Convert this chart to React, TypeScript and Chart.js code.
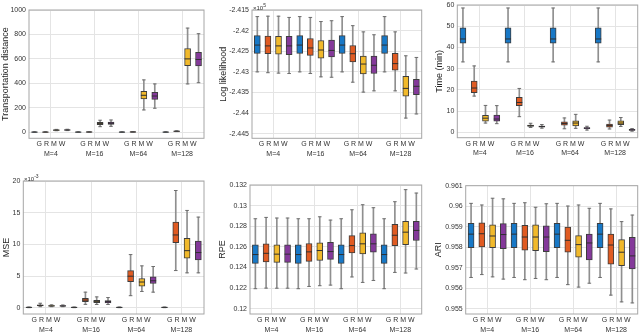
import React, { useEffect, useRef } from 'react';
import { Chart, registerables } from 'chart.js';

Chart.register(...registerables);

const FONT = "'Liberation Sans', Arial, Helvetica, sans-serif";

// ---- shared categories ----
const groupLabels = ['M=4', 'M=16', 'M=64', 'M=128'];
const methodLetters = 'G R M W';
const groupCenters = [2.5, 6.5, 10.5, 14.5];
const methodColors = ['#1878c6', '#e05b22', '#f1b92b', '#84399a'];

// Each row: [lower whisker, q1, median, q3, upper whisker] for M=4, M=16, M=64, M=128

// Transportation distance
const tdG = [[0, 0.5, 1, 1.5, 2], [0, 0.5, 1, 1.5, 2], [0, 0.5, 1, 1.5, 2], [0, 0.5, 1, 1.5, 2]];
const tdR = [[0, 0.5, 1, 1.5, 3], [0, 1, 1.5, 2, 3], [0, 1, 2, 3, 4], [5, 7, 8, 9, 11]];
const tdM = [[12, 15, 17, 19, 23], [45, 62, 72, 80, 98], [182, 272, 302, 335, 428], [395, 545, 600, 685, 852]];
const tdW = [[13, 16, 18, 20, 24], [48, 63, 73, 82, 100], [196, 269, 296, 327, 395], [405, 542, 595, 653, 806]];
const tdTicks = [0, 200, 400, 600, 800, 1000];
const tdTickLabels = ['0', '200', '400', '600', '800', '1000'];

// Log likelihood (x 10^5)
const llG = [[-2.43, -2.4255, -2.4235, -2.4212, -2.4166], [-2.43, -2.4255, -2.4235, -2.4212, -2.4166], [-2.43, -2.4255, -2.4235, -2.4212, -2.4166], [-2.43, -2.4255, -2.4235, -2.4212, -2.4166]];
const llR = [[-2.4302, -2.4256, -2.4237, -2.4213, -2.4165], [-2.4304, -2.426, -2.4242, -2.4219, -2.4168], [-2.4325, -2.4276, -2.4256, -2.4236, -2.4188], [-2.4346, -2.4296, -2.428, -2.4255, -2.4203]];
const llM = [[-2.4303, -2.4257, -2.4237, -2.4214, -2.4165], [-2.4312, -2.4267, -2.4247, -2.4224, -2.4178], [-2.4349, -2.4305, -2.4281, -2.4262, -2.4203], [-2.4412, -2.4359, -2.434, -2.4311, -2.4261]];
const llW = [[-2.4304, -2.4258, -2.4237, -2.4214, -2.4168], [-2.4313, -2.4264, -2.4248, -2.4223, -2.4176], [-2.4346, -2.4304, -2.4284, -2.4262, -2.421], [-2.4402, -2.4355, -2.4335, -2.4318, -2.4265]];
const llTicks = [-2.445, -2.44, -2.435, -2.43, -2.425, -2.42, -2.415];
const llTickLabels = ['-2.445', '-2.44', '-2.435', '-2.43', '-2.425', '-2.42', '-2.415'];

// Time (min)
const tmG = [[33.2, 42, 44, 49.2, 58.6], [33.2, 42, 44, 49.2, 58.6], [33.2, 42, 44, 49.2, 58.6], [33.2, 42, 44, 49.2, 58.6]];
const tmR = [[17.1, 18.7, 20.9, 24.2, 31.3], [7.4, 12.6, 14.1, 16.5, 20.7], [1.7, 3.4, 4.2, 5.0, 6.8], [1.6, 2.5, 3.2, 3.9, 5.8]];
const tmM = [[4.4, 5.3, 6.7, 8.0, 12.7], [2.3, 2.8, 3.2, 3.5, 4.3], [1.9, 3.1, 4.4, 5.5, 8.5], [2.8, 3.6, 4.4, 5.5, 7.0]];
const tmW = [[4.1, 5.3, 6.3, 8.2, 12.6], [2.0, 2.5, 2.8, 3.0, 3.7], [1.1, 1.7, 2.0, 2.3, 2.9], [0.6, 0.9, 1.2, 1.5, 1.8]];
const tmTicks = [0, 10, 20, 30, 40, 50, 60];
const tmTickLabels = ['0', '10', '20', '30', '40', '50', '60'];

// MSE (x 10^-3)
const mseG = [[0, 0.03, 0.05, 0.07, 0.1], [0, 0.03, 0.05, 0.07, 0.1], [0, 0.03, 0.05, 0.07, 0.1], [0, 0.03, 0.05, 0.07, 0.1]];
const mseR = [[0.15, 0.28, 0.35, 0.45, 0.7], [0.52, 0.94, 1.2, 1.46, 2.45], [1.89, 4.09, 4.97, 5.86, 8.38], [5.86, 10.27, 11.48, 13.5, 18.5]];
const mseM = [[0.15, 0.22, 0.28, 0.33, 0.45], [0.5, 0.8, 1.0, 1.15, 1.7], [2.56, 3.4, 4.05, 4.6, 6.6], [5.5, 7.8, 9.0, 10.94, 15.35]];
const mseW = [[0.15, 0.22, 0.27, 0.32, 0.42], [0.5, 0.75, 0.95, 1.1, 1.6], [2.45, 3.82, 4.25, 4.87, 6.5], [5.5, 7.55, 8.7, 10.5, 14.3]];
const mseTicks = [0, 5, 10, 15, 20];
const mseTickLabels = ['0', '5', '10', '15', '20'];

// RPE
const rpeG = [[0.12195, 0.12441, 0.12526, 0.1262, 0.12873], [0.12195, 0.12441, 0.12526, 0.1262, 0.12873], [0.12195, 0.12441, 0.12526, 0.1262, 0.12873], [0.12195, 0.12441, 0.12526, 0.1262, 0.12873]];
const rpeR = [[0.12201, 0.12455, 0.12538, 0.1263, 0.12886], [0.12217, 0.1246, 0.12552, 0.12633, 0.12873], [0.12309, 0.12542, 0.12613, 0.1271, 0.1296], [0.12353, 0.12613, 0.12713, 0.12818, 0.13038]];
const rpeM = [[0.122, 0.1245, 0.1253, 0.1262, 0.1288], [0.12224, 0.1247, 0.12565, 0.12639, 0.12892], [0.12256, 0.12532, 0.1263, 0.12737, 0.13009], [0.12347, 0.12623, 0.12743, 0.12847, 0.13155]];
const rpeW = [[0.122, 0.1245, 0.1253, 0.1262, 0.1288], [0.1223, 0.1248, 0.12555, 0.12645, 0.1286], [0.12275, 0.12548, 0.1263, 0.12727, 0.1298], [0.12386, 0.12662, 0.1276, 0.12847, 0.13122]];
const rpeTicks = [0.12, 0.122, 0.124, 0.126, 0.128, 0.13, 0.132];
const rpeTickLabels = ['0.12', '0.122', '0.124', '0.126', '0.128', '0.13', '0.132'];

// ARI
const ariG = [[0.95653, 0.95798, 0.95864, 0.95917, 0.96014], [0.95653, 0.95798, 0.95864, 0.95917, 0.96014], [0.95653, 0.95798, 0.95864, 0.95917, 0.96014], [0.95653, 0.95798, 0.95864, 0.95917, 0.96014]];
const ariR = [[0.95667, 0.95802, 0.95866, 0.95919, 0.96006], [0.95642, 0.95786, 0.9585, 0.95907, 0.96017], [0.95618, 0.95776, 0.95834, 0.95898, 0.96001], [0.95567, 0.95718, 0.95811, 0.95864, 0.95987]];
const ariM = [[0.95656, 0.95798, 0.95855, 0.95909, 0.96039], [0.95648, 0.95784, 0.9585, 0.95909, 0.95995], [0.95606, 0.95752, 0.95813, 0.95857, 0.96006], [0.95534, 0.95711, 0.95776, 0.95837, 0.95925]];
const ariW = [[0.95645, 0.95793, 0.95862, 0.95915, 0.96036], [0.95642, 0.95779, 0.9585, 0.95905, 0.96012], [0.95625, 0.95739, 0.95821, 0.95864, 0.9599], [0.95529, 0.95695, 0.95758, 0.95849, 0.95957]];
const ariTicks = [0.955, 0.956, 0.957, 0.958, 0.959, 0.96, 0.961];
const ariTickLabels = ['0.955', '0.956', '0.957', '0.958', '0.959', '0.96', '0.961'];

type PanelCfg = {
  L: number; T: number; R: number; B: number; titleX: number;
  title: string; yMin: number; yMax: number;
  ticks: number[]; tickLabels: string[];
  series: number[][][];
};

const panels: PanelCfg[] = [
  { L: 29, T: 10, R: 204, B: 138.3, titleX: 5, title: 'Transportation distance', yMin: -50, yMax: 1000, ticks: tdTicks, tickLabels: tdTickLabels, series: [tdG, tdR, tdM, tdW] },
  { L: 252, T: 10, R: 421.7, B: 138.3, titleX: 223, title: 'Log likelihood', yMin: -2.4461, yMax: -2.415, ticks: llTicks, tickLabels: llTickLabels, series: [llG, llR, llM, llW] },
  { L: 457.3, T: 5, R: 637.7, B: 137.7, titleX: 439, title: 'Time (min)', yMin: -2.5, yMax: 60, ticks: tmTicks, tickLabels: tmTickLabels, series: [tmG, tmR, tmM, tmW] },
  { L: 23.3, T: 181, R: 204, B: 314, titleX: 6, title: 'MSE', yMin: -1, yMax: 20, ticks: mseTicks, tickLabels: mseTickLabels, series: [mseG, mseR, mseM, mseW] },
  { L: 250, T: 185, R: 421.7, B: 314, titleX: 222, title: 'RPE', yMin: 0.1195, yMax: 0.132, ticks: rpeTicks, tickLabels: rpeTickLabels, series: [rpeG, rpeR, rpeM, rpeW] },
  { L: 465.7, T: 185.7, R: 637.7, B: 314, titleX: 438, title: 'ARI', yMin: 0.95475, yMax: 0.961, ticks: ariTicks, tickLabels: ariTickLabels, series: [ariG, ariR, ariM, ariW] },
];

const framePlugin = {
  id: 'frame',
  afterDraw(chart: any) {
    const { ctx, chartArea } = chart;
    ctx.save();
    ctx.strokeStyle = '#a6a6a6';
    ctx.lineWidth = 1;
    ctx.strokeRect(chartArea.left, chartArea.top, chartArea.right - chartArea.left, chartArea.bottom - chartArea.top);
    ctx.restore();
  },
};

function Panel({ cfg }: { cfg: PanelCfg }) {
  const ref = useRef<HTMLCanvasElement>(null);
  const cl = Math.floor(cfg.titleX - 5);
  const ct = Math.floor(cfg.T - 10);
  const yW = cfg.L - cl;
  const padTop = cfg.T - ct;
  const cw = Math.ceil(cfg.R - cl + 3);
  const padRight = cw - (cfg.R - cl);
  const ch = Math.ceil(cfg.B - ct + 28);
  const xH = ch - (cfg.B - ct);

  useEffect(() => {
    if (!ref.current) return;
    const whisk: any[] = [];
    const box: any[] = [];
    const boxColors: string[] = [];
    const med: any[] = [];
    const caps: any[] = [];
    cfg.series.forEach((s, m) => {
      s.forEach((v, g) => {
        const x = g * 4 + m + 1;
        whisk.push({ x, y: [v[0], v[4]] });
        box.push({ x, y: [v[1], v[3]] });
        boxColors.push(methodColors[m]);
        med.push({ x, y: v[2] });
        caps.push({ x, y: v[0] }, { x, y: v[4] });
      });
    });

    const chart = new Chart(ref.current, {
      type: 'bar',
      data: {
        datasets: [
          { type: 'line', data: med, showLine: false, pointStyle: 'line', pointRadius: 3, pointBorderWidth: 1, borderColor: '#2f2f2f', pointBorderColor: '#2f2f2f' } as any,
          { type: 'line', data: caps, showLine: false, pointStyle: 'line', pointRadius: 1.8, pointBorderWidth: 1, borderColor: '#6e6e6e', pointBorderColor: '#6e6e6e' } as any,
          { type: 'bar', data: box, backgroundColor: boxColors, borderColor: '#3d3d3d', borderWidth: 1, borderSkipped: false, barThickness: 6, grouped: false } as any,
          { type: 'bar', data: whisk, backgroundColor: '#8f8f8f', borderWidth: 0, barThickness: 1, grouped: false } as any,
        ],
      },
      options: {
        animation: false,
        responsive: false,
        maintainAspectRatio: false,
        events: [],
        layout: { autoPadding: false, padding: { left: 0, top: padTop, right: padRight, bottom: 0 } } as any,
        plugins: { legend: { display: false }, tooltip: { enabled: false } },
        scales: {
          x: {
            type: 'linear',
            min: 0.5,
            max: 16.5,
            offset: false,
            afterBuildTicks: (s: any) => { s.ticks = groupCenters.map((v) => ({ value: v })); },
            afterFit: (s: any) => { s.height = xH; },
            ticks: {
              autoSkip: false,
              maxRotation: 0,
              minRotation: 0,
              padding: 1,
              color: '#333',
              font: { family: FONT, size: 7, lineHeight: 1.4 },
              callback: (_v: any, i: number) => [methodLetters, groupLabels[i]],
            },
            grid: { color: '#e4e4e4', drawTicks: false, offset: false },
            border: { display: false },
          } as any,
          y: {
            type: 'linear',
            min: cfg.yMin,
            max: cfg.yMax,
            afterBuildTicks: (s: any) => { s.ticks = cfg.ticks.map((v) => ({ value: v })); },
            afterFit: (s: any) => { s.width = yW; },
            ticks: {
              padding: 3,
              color: '#333',
              font: { family: FONT, size: 7 },
              callback: (_v: any, i: number) => cfg.tickLabels[i],
            },
            grid: { color: '#e4e4e4', drawTicks: false },
            border: { display: false },
            title: { display: true, text: cfg.title, color: '#262626', padding: 0, font: { family: FONT, size: 9 } },
          } as any,
        },
      },
      plugins: [framePlugin],
    });
    return () => chart.destroy();
  }, []);

  return (
    <canvas
      ref={ref}
      width={cw}
      height={ch}
      style={{ position: 'absolute', left: cl, top: ct, width: cw, height: ch }}
    />
  );
}

export default function App() {
  return (
    <div style={{ position: 'absolute', left: 0, top: 0, width: 640, height: 333, overflow: 'hidden', background: '#fff', fontFamily: FONT }}>
      {panels.map((p, i) => <Panel key={i} cfg={p} />)}
      <div style={{ position: 'absolute', left: 253, top: 0, fontSize: 6, lineHeight: '10px', color: '#333', whiteSpace: 'nowrap' }}>
        ×10<sup style={{ fontSize: 5 }}>5</sup>
      </div>
      <div style={{ position: 'absolute', left: 24, top: 171, fontSize: 6, lineHeight: '10px', color: '#333', whiteSpace: 'nowrap' }}>
        ×10<sup style={{ fontSize: 5 }}>-3</sup>
      </div>
    </div>
  );
}
